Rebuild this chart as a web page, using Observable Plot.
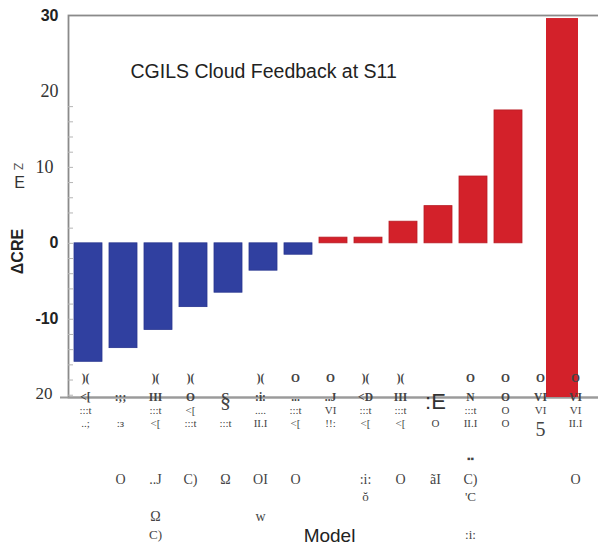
<!DOCTYPE html>
<html>
<head>
<meta charset="utf-8">
<script src="https://cdn.jsdelivr.net/npm/d3@7"></script>
<script src="https://cdn.jsdelivr.net/npm/@observablehq/plot@0.6"></script>
<style>
  html, body { margin: 0; padding: 0; background: #fff; }
</style>
</head>
<body>
<div id="chart"></div>
<script>
// ---- data ----
const categories = ["M1","M2","M3","M4","M5","M6","M7","M8","M9","M10","M11","M12","M13","M14","M15"];
const values = [-15.6, -13.8, -11.4, -8.4, -6.5, -3.6, -1.5, 0.75, 0.75, 2.85, 4.9, 8.8, 17.5, null, 29.6];
const bases  = [0, 0, 0, 0, 0, 0, 0, 0, 0, 0, 0, 0, 0, 0, -20.3];

const yTickValues = [30, 20, 10, 0, -10, -20];
const yTickLabels = ["30", "20", "10", "0", "-10", "20"];
const yMinorTicks = [-20, -18, -16, -14, -12, -10, -8, -6, -4, -2, 0, 2, 4, 6, 8, 10, 12, 14, 16, 18];

const title = "CGILS Cloud Feedback at S11";
const xTitle = "Model";
const yTitle = "ΔCRE";

// scanned (garbled) model-name rows under the axis
const rowA = [")(", "", ")(", ")(", "", ")(", "O", "O", ")(", ")(", "", "O", "O", "O", "O"];
const rowB = ["<[", ":;;", "III", "O", "", ":i:", "...", "..J", "<D", "III", "", "N", "O", "VI", "VI"];
const rowC = [":::t", "", ":::t", "<[", "", "....", ":::t", "VI", ":::t", ":::t", "", ":::t", "O", "VI", "VI"];
const rowD = ["..;", ":з", "<[", ":::t", ":::t", "II.I", "<[", "!!:", "<[", "<[", "O", "II.I", "O", "", "II.I"];
const rowE = ["", "O", "..J", "C)", "Ω", "OI", "O", "", ":i:", "O", "ãI", "C)", "", "", "O"];
const rowF = ["", "", "", "", "", "", "", "", "ŏ", "", "", "'C", "", "", ""];
const rowG = ["", "", "Ω", "", "", "w", "", "", "", "", "", "", "", "", ""];
const rowH = ["", "", "C)", "", "", "", "", "", "", "", "", ":i:", "", "", ""];
const bigSans = ["", "", "", "", "", "", "", "", "", "", ":E", "", "", "", ""];
const bigSerifTop = ["", "", "", "", "§", "", "", "", "", "", "", "", "", "", ""];
const bigSerifLow = ["", "", "", "", "", "", "", "", "", "", "", "", "", "5", ""];
const dots = ["", "", "", "", "", "", "", "", "", "", "", "▪▪", "", "", ""];

// ---- build ----
const bars = categories.map((c, i) => ({cat: c, base: bases[i], value: values[i]}));
const mainBars = bars.slice(0, 14).filter(d => d.value != null);
const tallBar = bars.slice(14);

const blue = "#3040a0";
const red = "#d3212a";
const serif = "'Liberation Serif', 'DejaVu Serif', serif";
const sans = "'Liberation Sans', Arial, sans-serif";

function row(arr, dy, opts = {}) {
  return Plot.text(categories.map((c, i) => ({cat: c, t: arr[i]})).filter(d => d.t), {
    x: "cat", text: "t", frameAnchor: "bottom", lineAnchor: "middle", dy, dx: -3,
    fontFamily: serif, fontSize: 13, fill: "#444", ...opts
  });
}

const tickData = yTickValues.map((v, i) => ({v, t: yTickLabels[i], i}));
const tickStyle = {y: "v", text: "t", frameAnchor: "left", textAnchor: "end", lineAnchor: "middle"};

const chart = Plot.plot({
  width: 598,
  height: 546,
  marginTop: 15,
  marginBottom: 149,
  marginLeft: 68,
  marginRight: 0,
  x: {domain: categories, paddingInner: 0.2, paddingOuter: 0.1, axis: null},
  y: {domain: [-20.3, 30], axis: null},
  marks: [
    Plot.frame({stroke: "#8a8a8a", strokeWidth: 1.8, insetRight: -6}),
    Plot.ruleY([-20.3], {stroke: "#9a9a9a", strokeWidth: 1.8, insetLeft: -8}),
    Plot.ruleY(yMinorTicks, {stroke: "#b5b5b5", strokeWidth: 1, insetRight: 525}),
    Plot.barY(mainBars, {
      x: "cat", y1: "base", y2: "value",
      fill: d => d.value < 0 ? blue : red,
      stroke: d => d.value < 0 ? "#28358f" : "#b81c24", strokeWidth: 0.8
    }),
    Plot.barY(tallBar, {
      x: "cat", y1: "base", y2: "value", fill: red,
      dx: -16, insetLeft: -2, insetRight: -2
    }),
    // y tick labels
    Plot.text(tickData.filter(d => [0, 3, 4].includes(d.i)), {
      ...tickStyle, dx: -10,
      fontFamily: sans, fontWeight: "bold", fontSize: 16, fill: "#222"
    }),
    Plot.text(tickData.filter(d => d.i === 1), {
      ...tickStyle, dx: -10,
      fontFamily: serif, fontSize: 18, fill: "#333"
    }),
    Plot.text(tickData.filter(d => d.i === 2), {
      ...tickStyle, dx: -15,
      fontFamily: serif, fontSize: 18, fill: "#333"
    }),
    Plot.text(tickData.filter(d => d.i === 5), {
      ...tickStyle, dx: -16, dy: -2,
      fontFamily: serif, fontSize: 17, fill: "#333"
    }),
    // axis titles
    Plot.text([yTitle], {
      frameAnchor: "left", textAnchor: "middle", lineAnchor: "middle", dx: -51, dy: 45, rotate: -90,
      fontFamily: sans, fontWeight: "bold", fontSize: 16, fill: "#222"
    }),
    Plot.text(["E"], {frameAnchor: "left", textAnchor: "middle", lineAnchor: "middle", dx: -49, dy: -24, fontFamily: sans, fontSize: 16, fill: "#333"}),
    Plot.text(["Z"], {frameAnchor: "left", textAnchor: "middle", lineAnchor: "middle", dx: -51, dy: -40, rotate: 90, fontFamily: sans, fontSize: 12, fill: "#555"}),
    Plot.text([title], {
      frameAnchor: "top-left", textAnchor: "start", lineAnchor: "middle", dx: 62, dy: 56,
      fontFamily: sans, fontSize: 19.5, fill: "#222"
    }),
    Plot.text([xTitle], {
      frameAnchor: "bottom", textAnchor: "middle", lineAnchor: "middle", dx: -4, dy: 138,
      fontFamily: sans, fontSize: 19, fill: "#222"
    }),
    // garbled model labels
    row(rowA, -19, {fontSize: 11.5, fontWeight: "bold"}),
    row(rowB, 0, {fontSize: 11.5, fontWeight: "bold"}),
    row(rowC, 13, {fontSize: 11}),
    row(rowD, 26, {fontSize: 11}),
    row(rowE, 82, {fontSize: 14}),
    row(rowF, 99),
    row(rowG, 119, {fontSize: 14}),
    row(rowH, 137),
    row(bigSans, 4, {fontSize: 22, fontFamily: sans, fill: "#333"}),
    row(bigSerifTop, 2, {fontSize: 22}),
    row(bigSerifLow, 32, {fontSize: 20}),
    row(dots, 61, {fontSize: 10})
  ]
});
document.getElementById("chart").append(chart);
</script>
</body>
</html>
